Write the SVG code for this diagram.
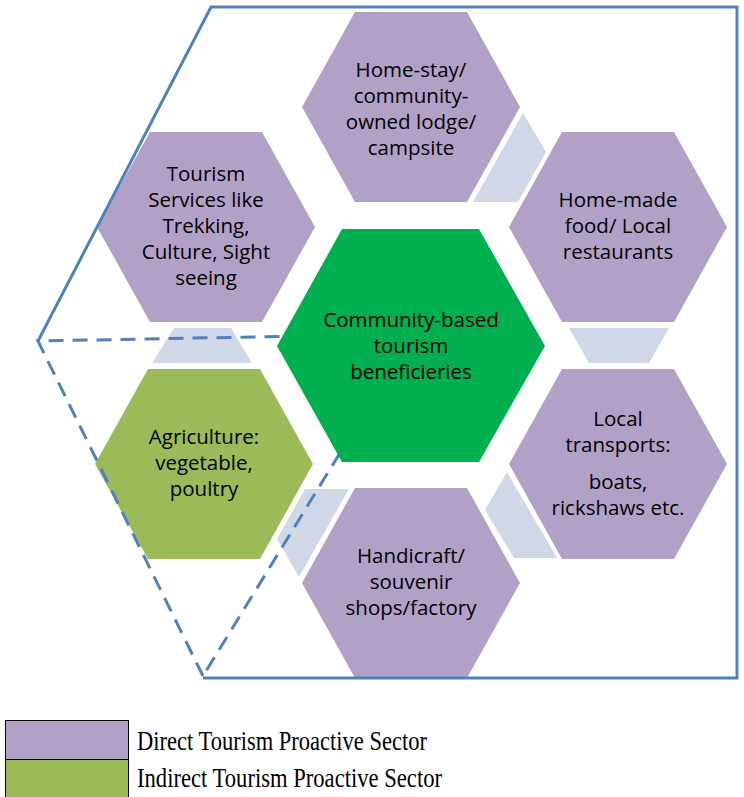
<svg xmlns="http://www.w3.org/2000/svg" width="744" height="797" viewBox="0 0 744 797">
  <defs>
    <!-- flat-top hexagon, centred on the origin -->
    <polygon id="hex" points="-109,0 -56,-95 56,-95 109,0 56,95 -56,95"/>
    <style>
      .direct { fill: #B2A1C7; }
      .indirect { fill: #9BBB59; }
      .core { fill: #00B050; }
      .link { fill: #D0D8E7; }
      .label { font-family: "Open Sans", "Lato", "Liberation Sans", sans-serif; font-size: 20.5px; fill: #000; text-anchor: middle; }
      .edge { fill: none; stroke: #4F81BD; stroke-width: 3; stroke-linejoin: miter; }
      .dash { stroke-dasharray: 15 9; }
      .legend { font-family: "Liberation Serif", "Times New Roman", serif; font-size: 27px; fill: #000; }
    </style>
  </defs>

  <!-- light links between neighbouring hexagons -->
  <g id="links">
    <polygon class="link" points="523,113 546,152 518,202 473,202"/>
    <polygon class="link" points="569,328 669,328 649,363 589,363"/>
    <polygon class="link" points="507,472 485,510 514,558 557,558"/>
    <polygon class="link" points="305,489 349,489 299,577 277,539"/>
    <polygon class="link" points="174,328 231,328 252,363 152,363"/>
  </g>

  <g id="homestay">
    <use href="#hex" class="direct" transform="translate(411,107)"/>
    <text class="label" x="411" y="77">Home-stay/</text>
    <text class="label" x="411" y="103">community-</text>
    <text class="label" x="411" y="129">owned lodge/</text>
    <text class="label" x="411" y="155">campsite</text>
  </g>

  <g id="food">
    <use href="#hex" class="direct" transform="translate(618,227)"/>
    <text class="label" x="618" y="207">Home-made</text>
    <text class="label" x="618" y="233">food/ Local</text>
    <text class="label" x="618" y="259">restaurants</text>
  </g>

  <g id="services">
    <use href="#hex" class="direct" transform="translate(206,227)"/>
    <text class="label" x="206" y="181">Tourism</text>
    <text class="label" x="206" y="207">Services like</text>
    <text class="label" x="206" y="233">Trekking,</text>
    <text class="label" x="206" y="259">Culture, Sight</text>
    <text class="label" x="206" y="285">seeing</text>
  </g>

  <g id="transport">
    <use href="#hex" class="direct" transform="translate(618,464)"/>
    <text class="label" x="618" y="426">Local</text>
    <text class="label" x="618" y="452">transports:</text>
    <text class="label" x="618" y="489">boats,</text>
    <text class="label" x="618" y="515">rickshaws etc.</text>
  </g>

  <g id="handicraft">
    <use href="#hex" class="direct" transform="translate(411,583)"/>
    <text class="label" x="411" y="563">Handicraft/</text>
    <text class="label" x="411" y="589">souvenir</text>
    <text class="label" x="411" y="615">shops/factory</text>
  </g>

  <g id="agriculture">
    <use href="#hex" class="indirect" transform="translate(204,464)"/>
    <text class="label" x="204" y="444">Agriculture:</text>
    <text class="label" x="204" y="470">vegetable,</text>
    <text class="label" x="204" y="496">poultry</text>
  </g>

  <!-- sector boundaries -->
  <g id="boundaries">
    <polyline class="edge" points="203,678 737,678 737,7 211,7 38,341"/>
    <polyline class="edge dash" points="203,676 38,341 413,334 203,676"/>
  </g>

  <g id="core">
    <polygon class="core" points="277,346 342,229 479,229 545,346 479,462 342,462"/>
    <text class="label" x="411" y="327">Community-based</text>
    <text class="label" x="411" y="353">tourism</text>
    <text class="label" x="411" y="379">beneficieries</text>
  </g>

  <!-- key -->
  <g id="legend">
    <rect x="5.5" y="720.5" width="123" height="39" fill="#B2A1C7" stroke="#000" stroke-width="1"/>
    <rect x="5.5" y="759.5" width="123" height="39" fill="#9BBB59" stroke="#000" stroke-width="1"/>
    <text class="legend" x="137" y="750" textLength="290" lengthAdjust="spacingAndGlyphs">Direct Tourism Proactive Sector</text>
    <text class="legend" x="137" y="787" textLength="305" lengthAdjust="spacingAndGlyphs">Indirect Tourism Proactive Sector</text>
  </g>
</svg>
